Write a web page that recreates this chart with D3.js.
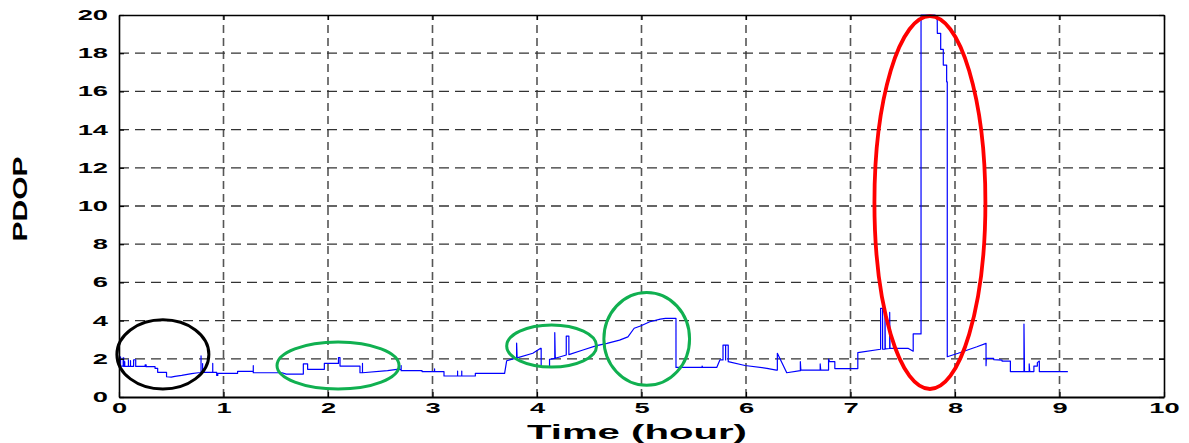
<!DOCTYPE html>
<html><head><meta charset="utf-8">
<script src="https://cdn.jsdelivr.net/npm/d3@7"></script>
<style>html,body{margin:0;padding:0;background:#fff;} svg{display:block;}</style>
</head><body><svg id="chart" width="1189" height="443"></svg>
<script>
// ---------- data ----------
const xTickValues = [0,1,2,3,4,5,6,7,8,9,10];
const yTickValues = [0,2,4,6,8,10,12,14,16,18,20];
const xLabel = "Time (hour)";
const yLabel = "PDOP";

const timeHour = [
 0.000,0.015,0.015,0.015,0.040,0.040,0.045,0.045,0.055,0.055,0.055,0.090,0.090,0.090,0.110,0.110,0.110,0.140,0.140,0.160,0.160,
 0.250,0.250,0.260,0.260,0.345,0.345,0.370,0.370,0.455,0.455,0.500,0.535,0.600,0.695,0.757,
 0.785,0.785,0.785,0.800,0.800,0.800,0.897,0.897,0.897,0.935,0.935,0.945,0.945,
 1.135,1.135,1.285,1.285,1.285,1.560,1.600,1.764,1.764,1.805,1.805,
 1.965,1.965,2.100,2.100,2.115,2.115,2.306,2.306,2.330,2.330,2.330,
 2.570,2.660,2.700,2.700,2.700,2.900,2.900,3.020,3.020,3.020,
 3.110,3.110,3.240,3.240,3.240,3.280,3.280,3.280,
 3.410,3.410,3.690,3.710,3.790,3.805,3.805,3.810,
 3.960,4.035,4.040,4.040,4.120,4.120,4.170,4.170,4.175,
 4.280,4.280,4.305,4.305,4.440,4.570,4.670,4.790,4.870,4.930,4.990,5.080,5.180,5.230,5.330,5.330,
 5.580,5.580,5.585,5.720,5.750,5.780,5.780,5.805,5.805,5.805,5.830,5.830,
 5.990,6.200,6.290,6.300,6.300,6.390,6.520,6.520,6.525,6.710,6.710,6.715,
 6.790,6.790,6.800,6.850,6.850,7.070,7.070,7.288,7.288,7.307,7.307,7.330,7.330,7.333,7.375,7.375,7.378,
 7.550,7.600,7.600,7.675,7.675,7.810,7.830,7.831,7.863,7.863,7.888,7.888,7.920,7.920,7.926,7.926,
 8.030,8.210,8.297,8.297,8.300,8.370,8.370,8.450,8.450,8.530,8.530,
 8.660,8.660,8.665,8.710,8.710,8.715,8.755,8.755,8.788,8.788,8.807,8.807,9.080
];
const pdopValue = [
 1.68,1.68,2.10,1.62,1.62,2.05,2.05,1.60,1.60,1.85,1.60,1.60,1.95,1.60,1.60,1.90,1.60,1.60,1.95,1.95,1.60,
 1.60,1.68,1.68,1.59,1.59,1.50,1.50,1.29,1.29,1.06,1.04,1.08,1.13,1.22,1.27,
 1.27,2.15,1.29,1.29,1.75,1.29,1.29,1.76,1.29,1.29,1.13,1.13,1.24,
 1.24,1.34,1.34,1.64,1.27,1.27,1.20,1.20,1.73,1.73,1.45,
 1.45,1.76,1.76,2.06,2.06,1.62,1.62,1.27,1.27,1.76,1.27,
 1.38,1.45,1.45,1.65,1.38,1.38,1.33,1.33,1.47,1.33,
 1.33,1.10,1.10,1.36,1.10,1.10,1.36,1.10,
 1.10,1.24,1.24,1.90,2.02,2.04,2.82,2.05,
 2.29,2.55,2.55,1.58,1.58,1.97,2.02,3.37,2.03,
 2.20,3.19,3.19,2.22,2.46,2.69,2.81,2.98,3.15,3.60,3.72,3.94,4.08,4.12,4.12,1.55,
 1.55,1.62,1.55,1.55,1.94,1.94,2.72,2.72,1.94,2.72,2.72,1.85,
 1.65,1.50,1.41,1.41,2.29,1.27,1.38,1.85,1.41,1.41,1.73,1.41,
 1.41,1.99,1.85,1.85,1.49,1.49,2.32,2.50,4.64,4.64,2.50,2.51,4.64,2.52,2.54,4.43,2.55,
 2.55,2.40,3.30,3.30,20.0,20.0,19.74,19.04,19.04,18.20,18.20,17.38,17.38,16.50,16.50,2.11,
 2.29,2.63,2.81,1.64,2.02,2.02,1.96,1.93,1.88,1.88,1.33,
 1.33,3.82,1.33,1.33,1.73,1.33,1.33,1.62,1.62,1.80,1.88,1.33,1.33
];

// highlighted regions (ellipses), in data units: centre time, centre PDOP, half-width (h), half-height (PDOP)
const regionCentreTime = [0.42, 2.096, 4.14, 5.05, 7.76];
const regionCentrePdop = [2.23, 1.65, 2.67, 3.04, 10.18];
const regionHalfTime   = [0.44, 0.584, 0.43, 0.41, 0.531];
const regionHalfPdop   = [1.81, 1.23, 1.10, 2.43, 9.76];
const regionKind       = ["normal","improved","improved","improved","outlier"];

// ---------- drawing ----------
const W = 1189, H = 443;
const M = {left:119, right:W-1164, top:15, bottom:H-397};
const svg = d3.select("#chart");
const x = d3.scaleLinear().domain([0,10]).range([M.left, W-M.right]);
const y = d3.scaleLinear().domain([0,20]).range([H-M.bottom, M.top]);
const STRETCH = 1.95;
const FONT = "'Liberation Sans', Arial, Helvetica, sans-serif";

function stretchText(sel, factor){
  sel.each(function(){
    const w = this.getComputedTextLength();
    this.setAttribute("textLength", (w*factor).toFixed(2));
    this.setAttribute("lengthAdjust","spacingAndGlyphs");
  });
}

// grid
const grid = svg.append("g");
grid.selectAll("line.gx").data(xTickValues.filter(d=>d>0 && d<10)).join("line")
  .attr("x1",d=>x(d)).attr("x2",d=>x(d)).attr("y1",y(0)).attr("y2",y(20))
  .attr("stroke","#555").attr("stroke-width",1.6).attr("stroke-dasharray","8,5");
grid.selectAll("line.gy").data(yTickValues.filter(d=>d>0 && d<20)).join("line")
  .attr("x1",x(0)).attr("x2",x(10)).attr("y1",d=>y(d)).attr("y2",d=>y(d))
  .attr("stroke","#333").attr("stroke-width",1.3).attr("stroke-dasharray","10,6");

// data line
const pts = timeHour.map((t,i)=>[t,pdopValue[i]]);
svg.append("path").datum(pts)
  .attr("fill","none").attr("stroke","#0000ff").attr("stroke-width",1.2)
  .attr("stroke-linejoin","round")
  .attr("d", d3.line().x(d=>x(d[0])).y(d=>y(d[1])));

// ellipses
const kindColor = {normal:"#000000", improved:"#10b050", outlier:"#ff0000"};
const kindWidth = {normal:3, improved:3, outlier:3.8};
svg.append("g").selectAll("ellipse").data(regionKind.map((k,i)=>({k,i}))).join("ellipse")
  .attr("cx",d=>x(regionCentreTime[d.i]))
  .attr("cy",d=>y(regionCentrePdop[d.i]))
  .attr("rx",d=>x(regionHalfTime[d.i])-x(0))
  .attr("ry",d=>y(0)-y(regionHalfPdop[d.i]))
  .attr("fill","none")
  .attr("stroke",d=>kindColor[d.k])
  .attr("stroke-width",d=>kindWidth[d.k]);

// axes
const axB = svg.append("g").attr("transform",`translate(0,${y(0)})`)
  .call(d3.axisBottom(x).tickValues(xTickValues).tickFormat(d3.format("d")).tickSizeInner(-5).tickSizeOuter(0).tickPadding(6));
const axL = svg.append("g").attr("transform",`translate(${x(0)},0)`)
  .call(d3.axisLeft(y).tickValues(yTickValues).tickFormat(d3.format("d")).tickSizeInner(-5).tickSizeOuter(0).tickPadding(11));
const axT = svg.append("g").attr("transform",`translate(0,${y(20)})`)
  .call(d3.axisTop(x).tickValues(xTickValues).tickFormat("").tickSizeInner(-5).tickSizeOuter(0));
const axR = svg.append("g").attr("transform",`translate(${x(10)},0)`)
  .call(d3.axisRight(y).tickValues(yTickValues).tickFormat("").tickSizeInner(-5).tickSizeOuter(0));
[axB,axL,axT,axR].forEach(a=>{
  a.select(".domain").attr("stroke","#000").attr("stroke-width",1.6);
  a.selectAll(".tick line").attr("stroke","#000").attr("stroke-width",1.2);
  a.selectAll("text").attr("font-family",FONT).attr("font-size",14).attr("font-weight","bold").attr("fill","#000");
});
axB.select(".domain").attr("stroke-width",2.2);
stretchText(axB.selectAll(".tick text"), STRETCH);
stretchText(axL.selectAll(".tick text"), STRETCH);

// axis titles
const xt = svg.append("text").attr("x",637).attr("y",439)
  .attr("text-anchor","middle").attr("font-family",FONT).attr("font-size",21).attr("font-weight","bold")
  .text(xLabel);
xt.attr("textLength",220).attr("lengthAdjust","spacingAndGlyphs");
const yt = svg.append("text").attr("transform",`translate(27,199) rotate(-90)`)
  .attr("text-anchor","middle").attr("font-family",FONT).attr("font-size",19.5).attr("font-weight","bold")
  .text(yLabel);
yt.attr("textLength",85).attr("lengthAdjust","spacingAndGlyphs");
</script></body></html>
